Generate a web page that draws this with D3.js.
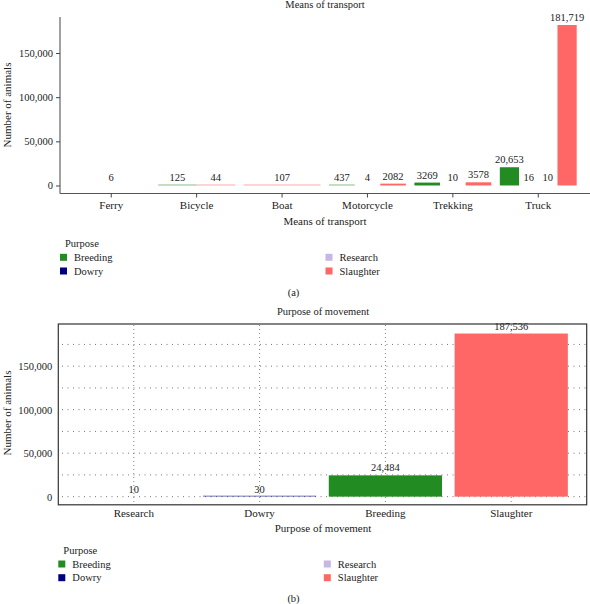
<!DOCTYPE html>
<html lang="en">
<head>
   <meta charset="UTF-8">
   <title>Means of transport / Purpose of movement</title>
   <style>
      body {
         margin: 0;
         background: white;
      }

      text {
         font-family: "Liberation Serif", "DejaVu Serif", serif;
         fill: #222;
      }

      .axis-line {
         stroke: #555;
         stroke-width: 1.1;
      }

      .grid-h {
         stroke: #666;
         stroke-width: 0.9;
         stroke-dasharray: 1 4.5;
      }

      .grid-v {
         stroke: #777;
         stroke-width: 0.9;
         stroke-dasharray: 1 3;
      }
   </style>
   <script src="https://cdn.jsdelivr.net/npm/d3@7"></script>
</head>
<body>
   <div class="d3"></div>
   <script>
      // data
      const transports = ['Ferry', 'Bicycle', 'Boat', 'Motorcycle', 'Trekking', 'Truck']
      const purposes = ['Breeding', 'Dowry', 'Research', 'Slaughter']
      const breeding = [null, 125, null, 437, 3269, 20653]
      const dowry = [null, null, null, 4, 10, 16]
      const research = [null, null, null, null, null, 10]
      const slaughter = [6, 44, 107, 2082, 3578, 181719]

      const movementPurposes = ['Research', 'Dowry', 'Breeding', 'Slaughter']
      const movementTotals = [10, 30, 24484, 187536]

      const yTicks = [0, 50000, 100000, 150000]
      const yMinorTicks = [25000, 75000, 125000, 175000]

      const colors = {
         Breeding: '#228b22',
         Dowry: '#000080',
         Research: '#c8b6e4',
         Slaughter: '#ff6666'
      }

      const fmt = d => d >= 10000 ? d3.format(',')(d) : String(d)

      // bars thinner than a pixel are drawn as a faint hairline (as the pdf renderer did)
      function barRect(sel, y) {
         sel.each(function (d) {
            const h = y(0) - y(d.value)
            const r = d3.select(this)
            if (h < 1) {
               r.attr('y', y(0) - (h > 0.025 ? 1 : 0))
                  .attr('height', h > 0.025 ? 1 : 0)
                  .attr('opacity', 0.55)
            } else {
               r.attr('y', y(d.value)).attr('height', h)
            }
         })
      }

      const svg = d3.select('.d3').append('svg')
         .attr('width', 590)
         .attr('height', 604)

      // ---------- (a) means of transport ----------
      const seriesByPurpose = { Breeding: breeding, Dowry: dowry, Research: research, Slaughter: slaughter }
      const groups = transports.map((t, i) => ({
         transport: t,
         bars: purposes
            .filter(p => seriesByPurpose[p][i] != null)
            .map(p => ({ purpose: p, value: seriesByPurpose[p][i] }))
      }))

      // 0.6 category of space beyond the outer centres, like ggplot's discrete expansion
      const xA = d3.scaleBand()
         .domain(transports)
         .range([60, 589.5])
         .paddingOuter(0.1)
         .paddingInner(0)

      const yA = d3.scaleLinear()
         .domain([-0.05 * 181719, 181719 * 1.05])
         .range([193.5, 17])

      const gA = svg.append('g')

      gA.append('text')
         .attr('x', 325)
         .attr('y', 8)
         .attr('text-anchor', 'middle')
         .attr('font-size', 10.5)
         .text('Means of transport')

      const groupG = gA.selectAll('g.cat')
         .data(groups)
         .enter()
         .append('g')
            .attr('class', 'cat')

      groupG.each(function (g) {
         const center = xA(g.transport) + xA.bandwidth() / 2
         const total = xA.bandwidth() * 0.9
         const inner = d3.scaleBand()
            .domain(g.bars.map(b => b.purpose))
            .range([center - total / 2, center + total / 2])

         const sel = d3.select(this)
         sel.selectAll('rect')
            .data(g.bars)
            .enter()
            .append('rect')
               .attr('x', d => inner(d.purpose))
               .attr('width', inner.bandwidth())
               .attr('fill', d => colors[d.purpose])
               .call(barRect, yA)

         sel.selectAll('text')
            .data(g.bars)
            .enter()
            .append('text')
               .attr('x', d => inner(d.purpose) + inner.bandwidth() / 2)
               .attr('y', d => yA(d.value) - 4)
               .attr('text-anchor', 'middle')
               .attr('font-size', 10.5)
               .text(d => fmt(d.value))
      })

      // axes (a)
      gA.append('line').attr('class', 'axis-line')
         .attr('x1', 60).attr('x2', 60).attr('y1', 17).attr('y2', 193.5)
      gA.append('line').attr('class', 'axis-line')
         .attr('x1', 60).attr('x2', 590).attr('y1', 193.5).attr('y2', 193.5)

      const yAxisA = gA.append('g')
         .attr('transform', 'translate(60,0)')
         .call(d3.axisLeft(yA).tickValues(yTicks).tickFormat(d3.format(',')).tickSize(4).tickPadding(3))
      yAxisA.select('.domain').remove()

      const xAxisA = gA.append('g')
         .attr('transform', 'translate(0,193.5)')
         .call(d3.axisBottom(xA).tickSize(4).tickPadding(4))
      xAxisA.select('.domain').remove()

      for (const ax of [yAxisA, xAxisA]) {
         ax.selectAll('line').attr('stroke', '#444')
         ax.selectAll('text')
            .attr('font-family', '"Liberation Serif", serif')
            .attr('font-size', 10.5)
            .attr('fill', '#222')
      }
      xAxisA.selectAll('text').attr('font-size', 11)

      gA.append('text')
         .attr('x', 325)
         .attr('y', 225)
         .attr('text-anchor', 'middle')
         .attr('font-size', 11)
         .text('Means of transport')

      gA.append('text')
         .attr('transform', 'translate(11,105) rotate(-90)')
         .attr('text-anchor', 'middle')
         .attr('font-size', 11)
         .text('Number of animals')

      // legend
      function legend(g, x0, yTitle) {
         g.append('text')
            .attr('x', x0 + 5)
            .attr('y', yTitle + 3.5)
            .attr('font-size', 10.5)
            .text('Purpose')
         const cols = [[purposes[0], purposes[1]], [purposes[2], purposes[3]]]
         cols.forEach((col, ci) => {
            col.forEach((p, ri) => {
               const x = x0 + ci * 265.5
               const yc = yTitle + 14 + ri * 13.7
               g.append('rect')
                  .attr('x', x)
                  .attr('y', yc - 3.5)
                  .attr('width', 7)
                  .attr('height', 7)
                  .attr('fill', colors[p])
               g.append('text')
                  .attr('x', x + 14)
                  .attr('y', yc + 3.5)
                  .attr('font-size', 10.5)
                  .text(p)
            })
         })
      }

      legend(gA, 60, 243.3)

      gA.append('text')
         .attr('x', 293.5)
         .attr('y', 296)
         .attr('text-anchor', 'middle')
         .attr('font-size', 10.5)
         .text('(a)')

      // ---------- (b) purpose of movement ----------
      const gB = svg.append('g')
      const movement = movementPurposes.map((p, i) => ({ purpose: p, value: movementTotals[i] }))

      const xB = d3.scaleBand()
         .domain(movementPurposes)
         .range([58.3, 586.7])
         .paddingOuter(0.1)
         .paddingInner(0)

      const yB = d3.scaleLinear()
         .domain([-0.05 * 187536, 198500])
         .range([504.8, 324])

      gB.append('text')
         .attr('x', 323)
         .attr('y', 315)
         .attr('text-anchor', 'middle')
         .attr('font-size', 10.5)
         .text('Purpose of movement')

      // grid
      gB.selectAll('line.grid-h')
         .data(yTicks.concat(yMinorTicks))
         .enter()
         .append('line')
            .attr('class', 'grid-h')
            .attr('x1', 62)
            .attr('x2', 586)
            .attr('y1', d => yB(d))
            .attr('y2', d => yB(d))

      gB.selectAll('line.grid-v')
         .data(movementPurposes)
         .enter()
         .append('line')
            .attr('class', 'grid-v')
            .attr('x1', d => xB(d) + xB.bandwidth() / 2)
            .attr('x2', d => xB(d) + xB.bandwidth() / 2)
            .attr('y1', 325)
            .attr('y2', 504)

      gB.selectAll('rect.bar')
         .data(movement)
         .enter()
         .append('rect')
            .attr('class', 'bar')
            .attr('x', d => xB(d.purpose) + xB.bandwidth() * 0.05)
            .attr('width', xB.bandwidth() * 0.9)
            .attr('fill', d => colors[d.purpose])
            .call(barRect, yB)

      gB.selectAll('text.lbl')
         .data(movement)
         .enter()
         .append('text')
            .attr('class', 'lbl')
            .attr('x', d => xB(d.purpose) + xB.bandwidth() / 2)
            .attr('y', d => yB(d.value) - 4)
            .attr('text-anchor', 'middle')
            .attr('font-size', 10.5)
            .text(d => fmt(d.value))

      // panel border
      gB.append('rect')
         .attr('x', 58.3)
         .attr('y', 324)
         .attr('width', 586.7 - 58.3)
         .attr('height', 504.8 - 324)
         .attr('fill', 'none')
         .attr('stroke', '#333')
         .attr('stroke-width', 1.2)

      const yAxisB = gB.append('g')
         .attr('transform', 'translate(58.3,0)')
         .call(d3.axisLeft(yB).tickValues(yTicks).tickFormat(d3.format(',')).tickSize(0).tickPadding(6))
      yAxisB.select('.domain').remove()

      const xAxisB = gB.append('g')
         .attr('transform', 'translate(0,504.8)')
         .call(d3.axisBottom(xB).tickSize(0).tickPadding(4))
      xAxisB.select('.domain').remove()

      for (const ax of [yAxisB, xAxisB]) {
         ax.selectAll('text')
            .attr('font-family', '"Liberation Serif", serif')
            .attr('font-size', 10.5)
            .attr('fill', '#222')
      }
      xAxisB.selectAll('text').attr('font-size', 11)

      gB.append('text')
         .attr('x', 323)
         .attr('y', 532)
         .attr('text-anchor', 'middle')
         .attr('font-size', 11)
         .text('Purpose of movement')

      gB.append('text')
         .attr('transform', 'translate(11,413) rotate(-90)')
         .attr('text-anchor', 'middle')
         .attr('font-size', 11)
         .text('Number of animals')

      legend(gB, 58.3, 550)

      gB.append('text')
         .attr('x', 293.5)
         .attr('y', 602)
         .attr('text-anchor', 'middle')
         .attr('font-size', 10.5)
         .text('(b)')
   </script>
</body>
</html>
